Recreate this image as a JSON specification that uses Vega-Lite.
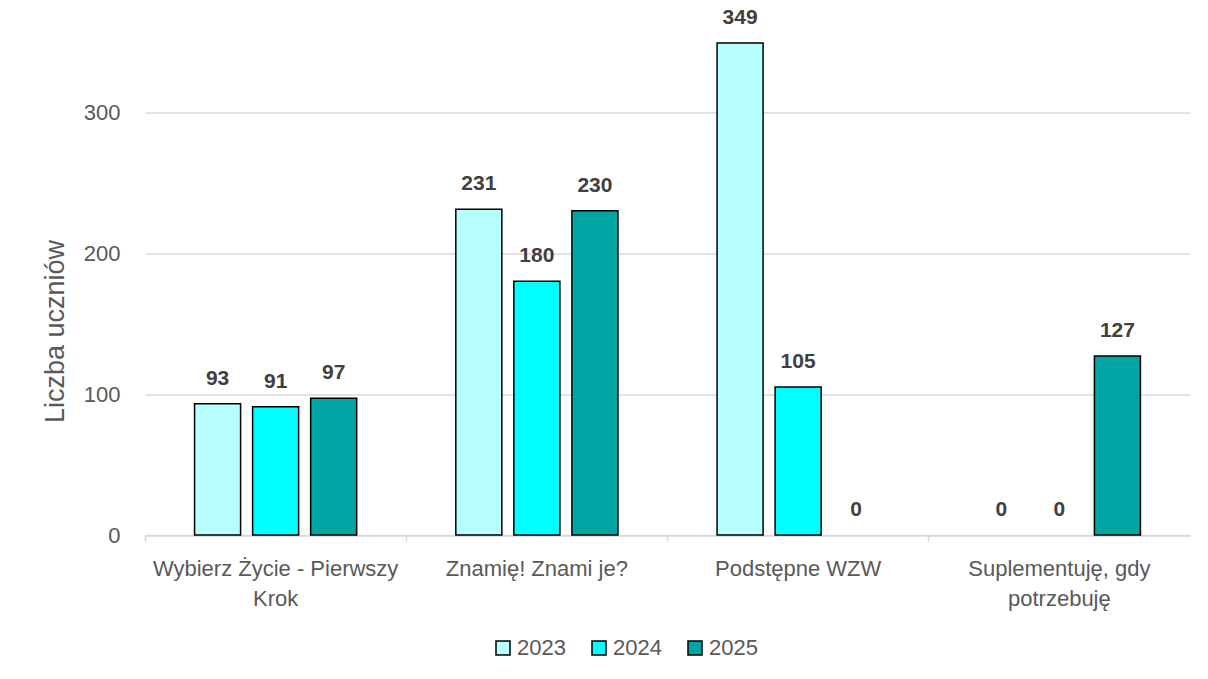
{
  "$schema": "https://vega.github.io/schema/vega-lite/v6.json",
  "width": 1045,
  "height": 493.5,
  "autosize": {"type": "none"},
  "padding": {"left": 145, "top": 41.5, "right": 18, "bottom": 144},
  "background": "white",
  "config": {"view": {"stroke": null}, "font": "Liberation Sans"},
  "data": {
    "values": [
      {"kategoria": "Wybierz Życie - Pierwszy Krok", "rok": "2023", "liczba": 93},
      {"kategoria": "Wybierz Życie - Pierwszy Krok", "rok": "2024", "liczba": 91},
      {"kategoria": "Wybierz Życie - Pierwszy Krok", "rok": "2025", "liczba": 97},
      {"kategoria": "Znamię! Znami je?", "rok": "2023", "liczba": 231},
      {"kategoria": "Znamię! Znami je?", "rok": "2024", "liczba": 180},
      {"kategoria": "Znamię! Znami je?", "rok": "2025", "liczba": 230},
      {"kategoria": "Podstępne WZW", "rok": "2023", "liczba": 349},
      {"kategoria": "Podstępne WZW", "rok": "2024", "liczba": 105},
      {"kategoria": "Podstępne WZW", "rok": "2025", "liczba": 0},
      {"kategoria": "Suplementuję, gdy potrzebuję", "rok": "2023", "liczba": 0},
      {"kategoria": "Suplementuję, gdy potrzebuję", "rok": "2024", "liczba": 0},
      {"kategoria": "Suplementuję, gdy potrzebuję", "rok": "2025", "liczba": 127}
    ]
  },
  "resolve": {"axis": {"x": "independent"}},
  "layer": [
    {
      "mark": {"type": "bar", "stroke": "black"},
      "encoding": {
        "x": {
          "field": "kategoria", "type": "nominal",
          "sort": ["Wybierz Życie - Pierwszy Krok", "Znamię! Znami je?", "Podstępne WZW", "Suplementuję, gdy potrzebuję"],
          "scale": {"paddingInner": 0, "paddingOuter": 0},
          "axis": {
            "title": null, "orient": "bottom", "labelAngle": 0, "labelFontSize": 22, "labelColor": "#595959",
            "domainColor": "#d9d9d9", "domainWidth": 1.5, "ticks": false, "labelPadding": 23,
            "labelLineHeight": 30, "labelLimit": 0, "grid": false,
            "labelExpr": "datum.value == 'Wybierz Życie - Pierwszy Krok' ? ['Wybierz Życie - Pierwszy', 'Krok'] : datum.value == 'Suplementuję, gdy potrzebuję' ? ['Suplementuję, gdy', 'potrzebuję'] : datum.value"
          }
        },
        "xOffset": {"field": "rok", "type": "nominal", "scale": {"paddingInner": 0.207, "paddingOuter": 0.854}},
        "y": {
          "field": "liczba", "type": "quantitative",
          "scale": {"domain": [0, 350], "nice": false},
          "axis": {
            "title": "Liczba uczniów", "titleFontSize": 27, "titleFontWeight": "normal", "titleColor": "#595959",
            "titleX": -90, "titleY": 289.5, "titleBaseline": "middle", "titleAngle": -90, "titleAlign": "center",
            "values": [0, 100, 200, 300], "labelFontSize": 22, "labelColor": "#595959",
            "labelPadding": 25, "ticks": false, "domain": false, "gridColor": "#d9d9d9", "gridWidth": 1.5
          }
        },
        "color": {
          "field": "rok", "type": "nominal",
          "scale": {"domain": ["2023", "2024", "2025"], "range": ["#B7FFFF", "#00FFFF", "#00A6A3"]},
          "legend": {
            "title": null, "orient": "none", "legendX": 347, "legendY": 595.5, "padding": 0,
            "direction": "horizontal", "symbolType": "square",
            "symbolSize": 196, "symbolStrokeColor": "black", "symbolStrokeWidth": 1.5, "labelOffset": 3,
            "labelFontSize": 22, "labelColor": "#595959", "columnPadding": 22, "symbolOpacity": 1
          }
        },
        "strokeWidth": {"condition": {"test": "datum.liczba == 0", "value": 0}, "value": 1.5}
      }
    },
    {
      "mark": {"type": "text", "dy": -25, "fontWeight": "bold", "fontSize": 21, "color": "#404040", "baseline": "middle"},
      "encoding": {
        "x": {
          "field": "kategoria", "type": "nominal",
          "sort": ["Wybierz Życie - Pierwszy Krok", "Znamię! Znami je?", "Podstępne WZW", "Suplementuję, gdy potrzebuję"],
          "axis": {
            "title": null, "orient": "bottom", "labels": false, "domain": false, "grid": false,
            "ticks": true, "bandPosition": 0, "tickColor": "#d9d9d9", "tickWidth": 1.5, "tickSize": 6
          }
        },
        "xOffset": {"field": "rok", "type": "nominal"},
        "y": {"field": "liczba", "type": "quantitative"},
        "text": {"field": "liczba", "type": "quantitative"}
      }
    }
  ]
}
